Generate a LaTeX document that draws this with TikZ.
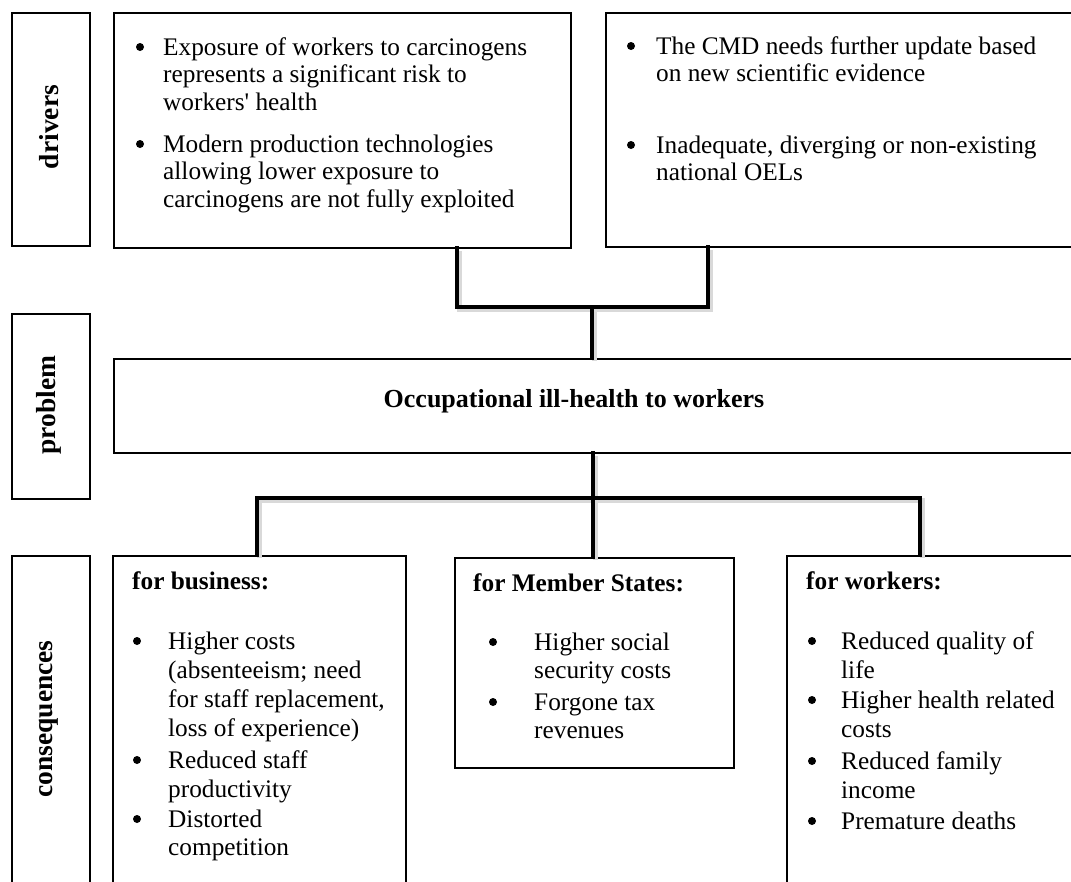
\documentclass[tikz,border=0pt]{standalone}
\usepackage{fontspec}
\setmainfont{Liberation Serif}
\newcommand{\bodyfs}{\fontsize{25.3}{27.5}\selectfont}
\newcommand{\lblfs}{\fontsize{27.5}{30}\selectfont\bfseries}
\newcommand{\probfs}{\fontsize{26}{30}\selectfont\bfseries}
\begin{document}
\begin{tikzpicture}[x=1pt,y=-1pt,
  box/.style={draw, line width=1.6pt, fill=white, inner sep=0, anchor=north west},
  lbl/.style={font=\lblfs, rotate=90, inner sep=0},
  txt/.style={font=\bodyfs, inner sep=0, anchor=base west},
  bul/.style={circle, fill=black, inner sep=0, minimum size=8pt},
  conn/.style={line width=4.6pt, line join=miter, line cap=rect},
  shad/.style={line width=5pt, line join=miter, draw=gray!30, transform canvas={shift={(2.5pt,-2.5pt)}}}]
\useasboundingbox (0,0) rectangle (1071,881);
\clip (0,0) rectangle (1071,881);

% label boxes
\node[box, minimum width=78, minimum height=233] (lab1) at (11,12) {};
\node[box, minimum width=78, minimum height=185] (lab2) at (11,313) {};
\node[box, minimum width=78, minimum height=345] (lab3) at (11,555) {};
\node[lbl] (l1) at (49,127) {drivers};
\node[lbl] (l2) at (49,405) {problem};
\node[lbl] (l3) at (49,719) {consequences};

% driver boxes
\node[box, minimum width=457, minimum height=235] (d1) at (113,12) {};
\node[box, minimum width=500, minimum height=234] (d2) at (605,12) {};

% problem box
\node[box, minimum width=990, minimum height=94] (p) at (113,358) {};
\node[font=\probfs, inner sep=0, anchor=base] (pt) at (574,407) {Occupational ill-health to workers};

% consequence boxes
\node[box, minimum width=293, minimum height=345] (b) at (112,555) {};
\node[box, minimum width=279, minimum height=210] (m) at (454,557) {};
\node[box, minimum width=320, minimum height=345] (w) at (786,555) {};

% driver texts
\node[bul] (d1b1) at (140,47) {};
\node[txt] (d1t1) at (163,55) {\parbox[t]{400pt}{\baselineskip=27.5pt Exposure of workers to carcinogens\\represents a significant risk to\\workers\textquotesingle{} health}};
\node[bul] (d1b2) at (140,144) {};
\node[txt] (d1t2) at (163,152) {\parbox[t]{400pt}{\baselineskip=27.5pt Modern production technologies\\allowing lower exposure to\\carcinogens are not fully exploited}};

\node[bul] (d2b1) at (631,46) {};
\node[txt] (d2t1) at (656,54) {\parbox[t]{405pt}{\baselineskip=27.5pt The CMD needs further update based\\on new scientific evidence}};
\node[bul] (d2b2) at (631,145) {};
\node[txt] (d2t2) at (656,153) {\parbox[t]{405pt}{\baselineskip=27.5pt Inadequate, diverging or non-existing\\national OELs}};

% business
\node[txt, font=\bodyfs\bfseries] (bh) at (132,589) {for business:};
\node[bul] (bb1) at (137,641) {};
\node[txt] (bt1) at (168,649) {\parbox[t]{232pt}{\baselineskip=29pt Higher costs\\(absenteeism; need\\for staff replacement,\\loss of experience)}};
\node[bul] (bb2) at (137,760) {};
\node[txt] (bt2) at (168,768) {\parbox[t]{232pt}{\baselineskip=29pt Reduced staff\\productivity}};
\node[bul] (bb3) at (137,819) {};
\node[txt] (bt3) at (168,827) {\parbox[t]{232pt}{\baselineskip=28.5pt Distorted\\competition}};

% member states
\node[txt, font=\bodyfs\bfseries] (mh) at (473,591) {for Member States:};
\node[bul] (mb1) at (493,642) {};
\node[txt] (mt1) at (534,650) {\parbox[t]{195pt}{\baselineskip=28.5pt Higher social\\security costs}};
\node[bul] (mb2) at (493,702) {};
\node[txt] (mt2) at (534,710) {\parbox[t]{195pt}{\baselineskip=28.5pt Forgone tax\\revenues}};

% workers
\node[txt, font=\bodyfs\bfseries] (wh) at (806,589) {for workers:};
\node[bul] (wb1) at (812,641) {};
\node[txt] (wt1) at (841,649) {\parbox[t]{225pt}{\baselineskip=29pt Reduced quality of\\life}};
\node[bul] (wb2) at (812,700) {};
\node[txt] (wt2) at (841,708) {\parbox[t]{225pt}{\baselineskip=29pt Higher health related\\costs}};
\node[bul] (wb3) at (812,761) {};
\node[txt] (wt3) at (841,769) {\parbox[t]{225pt}{\baselineskip=29pt Reduced family\\income}};
\node[bul] (wb4) at (812,821) {};
\node[txt] (wt4) at (841,829) {Premature deaths};

% connectors
\coordinate (j1) at (592,307);
\coordinate (j2) at (593,498);
\draw[shad] ([xshift=344]d1.south west) |- (j1) -| ([xshift=103]d2.south west);
\draw[shad] (j1) -- (j1 |- p.north);
\draw[shad] ([xshift=145]b.north west) |- (j2) -| ([xshift=134]w.north west);
\draw[shad] (j2 |- p.south) -- (j2 |- m.north);
\draw[conn] ([xshift=344]d1.south west) |- (j1) -| ([xshift=103]d2.south west);
\draw[conn] (j1) -- (j1 |- p.north);
\draw[conn] ([xshift=145]b.north west) |- (j2) -| ([xshift=134]w.north west);
\draw[conn] (j2 |- p.south) -- (j2 |- m.north);
\end{tikzpicture}
\end{document}
